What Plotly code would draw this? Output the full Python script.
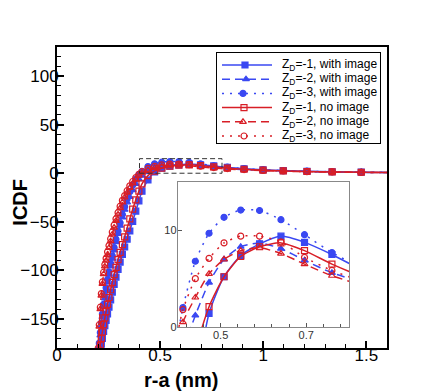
import plotly.graph_objects as go

# ---------------- data ----------------
r_a = [0.200, 0.205, 0.210, 0.215, 0.220, 0.226, 0.232, 0.238, 0.245, 0.252,
       0.260, 0.268, 0.277, 0.286, 0.296, 0.306, 0.317, 0.328, 0.340, 0.353,
       0.367, 0.382, 0.397, 0.412, 0.441, 0.473, 0.508, 0.547, 0.591, 0.641,
       0.696, 0.760, 0.826, 0.907, 0.999, 1.097, 1.212, 1.334, 1.475, 1.630]

icdf_zd1_image = [-198, -190, -183, -176, -170, -163, -157, -151.5, -145, -138,
                  -130.5, -122.5, -114.5, -107, -99, -91.5, -83.5, -76, -68, -59.5,
                  -49.5, -39, -28.5, -18.5, -7, 1.4, 5.2, 7.4, 8.6, 9.4,
                  8.75, 7.5, 6.0, 4.6, 3.5, 2.7, 2.0, 1.5, 1.1, 0.8]
icdf_zd2_image = [-190, -178, -167, -157, -148, -138, -129, -121, -112.5, -104.5,
                  -96, -88, -79.5, -71, -62.5, -54, -45.5, -37.5, -30, -24.5,
                  -17.5, -11, -6, -2.5, 1.2, 4.6, 7.0, 8.3, 8.7, 8.1,
                  6.9, 5.6, 4.7, 3.7, 2.9, 2.2, 1.7, 1.3, 0.9, 0.6]
icdf_zd3_image = [-187, -175, -164, -154, -145, -135, -126, -118, -109.5, -101.5,
                  -93, -85, -76.5, -68, -59.5, -51, -42.5, -34.5, -26.5, -19,
                  -12, -6, -1.5, 2.0, 6.8, 9.7, 11.35, 12.1, 12.05, 11.1,
                  9.55, 7.7, 6.2, 4.8, 3.7, 2.8, 2.1, 1.5, 1.1, 0.8]
icdf_zd1_noimage = [-192, -184, -177, -170, -163.5, -156, -149, -142.5, -135, -128,
                    -120, -112.5, -104.5, -97, -89, -81.5, -73.5, -65.5, -56.5, -47,
                    -37, -27.5, -18.5, -11, -2.5, 2.1, 5.2, 7.3, 8.3, 8.7,
                    7.9, 6.5, 5.3, 4.1, 3.1, 2.4, 1.8, 1.3, 1.0, 0.7]
icdf_zd2_noimage = [-182, -158, -140, -126, -114, -104, -96, -90, -84, -77,
                    -70, -63, -56, -49, -42.5, -36, -30, -25, -20, -15,
                    -10.5, -6.5, -2.5, 0.5, 3.05, 5.5, 7.0, 7.9, 8.2, 7.6,
                    6.5, 5.3, 4.4, 3.5, 2.7, 2.1, 1.6, 1.2, 0.9, 0.6]
icdf_zd3_noimage = [-180, -156, -138, -124, -112, -102, -94, -87.5, -81, -74.5,
                    -67.5, -60.5, -53.5, -47, -40.5, -34, -28, -23, -18, -13,
                    -8.5, -4.5, -1.2, 1.8, 5.0, 7.1, 8.7, 9.4, 9.4, 8.8,
                    7.2, 5.85, 4.8, 3.8, 2.9, 2.3, 1.7, 1.3, 0.9, 0.6]

series_names = ["Z<sub>D</sub>=-1, with image", "Z<sub>D</sub>=-2, with image",
                "Z<sub>D</sub>=-3, with image", "Z<sub>D</sub>=-1, no image",
                "Z<sub>D</sub>=-2, no image", "Z<sub>D</sub>=-3, no image"]
series_values = [icdf_zd1_image, icdf_zd2_image, icdf_zd3_image,
                 icdf_zd1_noimage, icdf_zd2_noimage, icdf_zd3_noimage]

main_xticks = [0, 0.5, 1, 1.5]
main_xlabels = ["0", "0.5", "1", "1.5"]
main_yticks = [-150, -100, -50, 0, 50, 100]
inset_xticks = [0.5, 0.7]
inset_yticks = [0, 10]

# ---------------- styles ----------------
BLUE = "#3a48f2"
RED = "#d81e26"
DASH = "8px,5px"
DOT = "2px,6px"
styles = [
    dict(color=BLUE, dash="solid", symbol="square"),
    dict(color=BLUE, dash=DASH, symbol="triangle-up"),
    dict(color=BLUE, dash=DOT, symbol="circle"),
    dict(color=RED, dash="solid", symbol="square-open"),
    dict(color=RED, dash=DASH, symbol="triangle-up-open"),
    dict(color=RED, dash=DOT, symbol="circle-open"),
]

fig = go.Figure()

for xa, ya in [("x", "y"), ("x2", "y2")]:
    for name, vals, st in zip(series_names, series_values, styles):
        fig.add_trace(go.Scatter(
            x=r_a, y=vals, mode="lines+markers", name=name, showlegend=False,
            xaxis=xa, yaxis=ya,
            line=dict(color=st["color"], dash=st["dash"], width=1.5,
                      shape="spline", smoothing=0.6),
            marker=dict(symbol=st["symbol"], size=6, color=st["color"],
                        line=dict(color=st["color"], width=1.2)),
        ))

# ---------------- manual legend (own hidden axes, pixel-like units) ----------------
leg_rows = [65, 79.2, 93.4, 107.6, 121.8, 136]
leg_marker_x = [245, 246, 243, 244, 243, 244]
for row, name, st, mx in zip(leg_rows, series_names, styles, leg_marker_x):
    fig.add_trace(go.Scatter(
        x=[222, 272], y=[row, row], mode="lines", showlegend=False,
        xaxis="x3", yaxis="y3", hoverinfo="skip",
        line=dict(color=st["color"], dash=st["dash"], width=1.5)))
    fig.add_trace(go.Scatter(
        x=[mx], y=[row], mode="markers", showlegend=False,
        xaxis="x3", yaxis="y3", hoverinfo="skip",
        marker=dict(symbol=st["symbol"], size=6, color=st["color"],
                    line=dict(color=st["color"], width=1.2))))
    fig.add_annotation(x=280, y=row, xref="x3", yref="y3", text=name,
                       showarrow=False, xanchor="left", yanchor="middle",
                       font=dict(family="Arial, Liberation Sans", size=12, color="black"))

fig.add_shape(type="rect", xref="x3", yref="y3", x0=216, x1=381, y0=52, y1=144,
              line=dict(color="black", width=2), fillcolor="white", layer="below")

# dashed zoom rectangle
fig.add_shape(type="rect", xref="x", yref="y", x0=0.4, x1=0.8, y0=0, y1=15,
              line=dict(color="#333333", width=1, dash="5px,3px"), layer="above")

tickfont = dict(family="Arial, Liberation Sans", size=17, color="black")
insetfont = dict(family="Arial, Liberation Sans", size=11, color="#333333")

# page body has an 8px default margin: the figure is sized so it ends at the window edge
fig.update_layout(
    width=432, height=384,
    margin=dict(l=49, r=53, t=39, b=44),
    paper_bgcolor="white", plot_bgcolor="white",
    showlegend=False,
    xaxis=dict(range=[0, 1.6], tickvals=main_xticks, ticktext=main_xlabels,
               ticks="inside", ticklen=7, tickwidth=1.5, tickcolor="black",
               minor=dict(dtick=0.1, tick0=0, ticks="inside", ticklen=4, tickwidth=1, tickcolor="black"),
               showline=True, linecolor="black", linewidth=2, mirror=True,
               showgrid=False, zeroline=False, tickfont=tickfont, ticklabelstandoff=-9),
    yaxis=dict(range=[-180, 130], tickvals=main_yticks,
               ticks="inside", ticklen=7, tickwidth=1.5, tickcolor="black",
               minor=dict(dtick=10, tick0=0, ticks="inside", ticklen=4, tickwidth=1, tickcolor="black"),
               showline=True, linecolor="black", linewidth=2, mirror=True,
               showgrid=False, zeroline=False, tickfont=tickfont, ticklabelstandoff=-7),
    xaxis2=dict(domain=[0.366, 0.885], anchor="y2", range=[0.4, 0.8],
                tickvals=inset_xticks, ticks="inside", ticklen=4, tickcolor="#555555",
                minor=dict(dtick=0.04, tick0=0.42, ticks="inside", ticklen=2.5, tickcolor="#555555"),
                showline=True, linecolor="#888888", linewidth=1, mirror=True,
                showgrid=False, zeroline=False, tickfont=insetfont, ticklabelstandoff=-2),
    yaxis2=dict(domain=[0.0698, 0.5515], anchor="x2", range=[0, 15],
                tickvals=inset_yticks, ticks="inside", ticklen=4, tickcolor="#555555",
                showline=True, linecolor="#888888", linewidth=1, mirror=True,
                showgrid=False, zeroline=False, tickfont=insetfont, ticklabelstandoff=-2),
    xaxis3=dict(domain=[0.4818, 0.9818], anchor="y3", range=[216, 381], visible=False),
    yaxis3=dict(domain=[0.6777, 0.9834], anchor="x3", range=[144, 52], visible=False),
)

fig.add_annotation(text="<b>ICDF</b>", xref="paper", yref="paper", x=-0.112, y=0.483,
                   textangle=-90, showarrow=False, xanchor="center", yanchor="middle",
                   font=dict(family="Arial, Liberation Sans", size=20, color="black"))
fig.add_annotation(text="<b>r-a (nm)</b>", xref="paper", yref="paper", x=0.375, y=-0.105,
                   showarrow=False, xanchor="center", yanchor="middle",
                   font=dict(family="Arial, Liberation Sans", size=20, color="black"))

fig.write_html("out.html")
